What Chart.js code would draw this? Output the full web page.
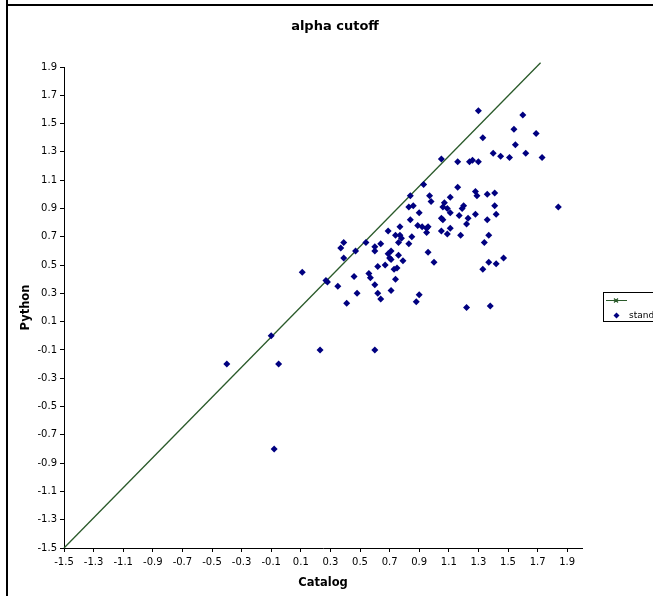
<!DOCTYPE html>
<html lang="en">
<head>
<meta charset="UTF-8">
<title>alpha cutoff</title>
<script src="https://cdn.jsdelivr.net/npm/chart.js@4.4.1/dist/chart.umd.min.js"></script>
<style>
    html, body { margin: 0; padding: 0; background: #fff; overflow: hidden; }
    #wrap { position: relative; width: 653px; height: 596px; }
    canvas { position: absolute; left: 0; top: 0; }
    .edge-left { position: absolute; left: 6px; top: 0; width: 2px; height: 596px; background: #000; }
    .edge-top { position: absolute; left: 6px; top: 4px; width: 647px; height: 2px; background: #000; }
</style>
</head>
<body>
<div id="wrap">
    <canvas id="chart" width="653" height="596"></canvas>
    <div class="edge-left"></div>
    <div class="edge-top"></div>
</div>
<script>
// values
const catalog = [-0.40,-0.05,-0.08,-0.10,0.11,0.23,0.27,0.28,0.60,0.35,
    0.37,0.39,0.39,0.41,0.46,0.47,0.48,0.54,0.56,0.57,
    0.60,0.60,0.60,0.62,0.62,0.64,0.64,0.67,0.69,0.69,
    0.70,0.71,0.71,0.71,0.73,0.74,0.74,0.75,0.76,0.76,
    0.77,0.77,0.78,0.79,0.83,0.83,0.84,0.84,0.85,0.86,
    0.88,0.89,0.90,0.90,0.92,0.93,0.95,0.95,0.96,0.96,
    0.97,0.98,1.00,1.05,1.05,1.06,1.05,1.06,1.07,1.09,
    1.09,1.11,1.11,1.11,1.16,1.16,1.17,1.18,1.19,1.20,
    1.22,1.22,1.23,1.24,1.26,1.28,1.28,1.29,1.30,1.30,
    1.33,1.33,1.34,1.36,1.36,1.37,1.37,1.38,1.40,1.41,
    1.41,1.42,1.42,1.45,1.47,1.51,1.54,1.55,1.60,1.62,
    1.69,1.73,1.84];
const python = [-0.20,-0.20,-0.80,0.00,0.45,-0.10,0.39,0.38,-0.10,0.35,
    0.62,0.66,0.55,0.23,0.42,0.60,0.30,0.66,0.44,0.41,
    0.63,0.60,0.36,0.30,0.49,0.65,0.26,0.50,0.74,0.58,
    0.55,0.60,0.54,0.32,0.47,0.40,0.71,0.48,0.66,0.57,
    0.77,0.71,0.69,0.53,0.91,0.65,0.99,0.82,0.70,0.92,
    0.24,0.78,0.87,0.29,0.77,1.07,0.76,0.73,0.77,0.59,
    0.99,0.95,0.52,1.25,0.83,0.82,0.74,0.91,0.94,0.90,
    0.72,0.98,0.76,0.87,1.23,1.05,0.85,0.71,0.90,0.92,
    0.79,0.20,0.83,1.23,1.24,1.02,0.86,0.99,1.59,1.23,
    1.40,0.47,0.66,0.82,1.00,0.71,0.52,0.21,1.29,1.01,
    0.92,0.51,0.86,1.27,0.55,1.26,1.46,1.35,1.56,1.29,
    1.43,1.26,0.91];

// reference line, two end points
const lineX = [-1.5, 1.72];
const lineY = [-1.5, 1.93];

const seriesNames = ['', 'standard'];
const xTicks = [-1.5,-1.3,-1.1,-0.9,-0.7,-0.5,-0.3,-0.1,0.1,0.3,0.5,0.7,0.9,1.1,1.3,1.5,1.7,1.9];
const yTicks = [-1.5,-1.3,-1.1,-0.9,-0.7,-0.5,-0.3,-0.1,0.1,0.3,0.5,0.7,0.9,1.1,1.3,1.5,1.7,1.9];

const FONT = 'DejaVu Sans, Verdana, sans-serif';
const LINE_COLOR = '#2a5a2a';
const DOT_COLOR = '#000080';

// title and the (cut off) legend box, drawn like the Excel original
const excelDecor = {
    id: 'excelDecor',
    afterDraw(chart) {
        const ctx = chart.ctx;
        ctx.save();
        ctx.fillStyle = '#000';
        ctx.font = 'bold 13px ' + FONT;
        ctx.textAlign = 'center';
        ctx.textBaseline = 'middle';
        ctx.fillText('alpha cutoff', 335, 27);

        // legend
        ctx.strokeStyle = '#000';
        ctx.lineWidth = 1;
        ctx.strokeRect(603.5, 292.5, 80, 29);

        ctx.strokeStyle = LINE_COLOR;
        ctx.lineWidth = 1.2;
        ctx.beginPath();
        ctx.moveTo(606, 300.5);
        ctx.lineTo(627, 300.5);
        ctx.moveTo(614, 298.5);
        ctx.lineTo(618, 302.5);
        ctx.moveTo(618, 298.5);
        ctx.lineTo(614, 302.5);
        ctx.stroke();

        ctx.fillStyle = DOT_COLOR;
        ctx.beginPath();
        ctx.moveTo(616.5, 312.5);
        ctx.lineTo(619.5, 315.5);
        ctx.lineTo(616.5, 318.5);
        ctx.lineTo(613.5, 315.5);
        ctx.closePath();
        ctx.fill();

        ctx.fillStyle = '#000';
        ctx.font = '9px ' + FONT;
        ctx.textAlign = 'left';
        ctx.fillText(seriesNames[0], 629, 300.5);
        ctx.fillText(seriesNames[1], 629, 315.5);
        ctx.restore();
    }
};

new Chart(document.getElementById('chart'), {
    type: 'scatter',
    data: {
        datasets: [{
            label: seriesNames[1],
            data: catalog.map((x, i) => ({ x: x, y: python[i] })),
            pointStyle: 'rectRot',
            pointRadius: 3.5,
            pointHoverRadius: 3.5,
            backgroundColor: DOT_COLOR,
            borderColor: DOT_COLOR,
            borderWidth: 0
        }, {
            label: seriesNames[0],
            data: lineX.map((x, i) => ({ x: x, y: lineY[i] })),
            showLine: true,
            borderColor: LINE_COLOR,
            borderWidth: 1.3,
            pointRadius: 0,
            clip: false
        }]
    },
    options: {
        responsive: false,
        animation: false,
        devicePixelRatio: 1,
        layout: { padding: { top: 67, right: 71, bottom: 0, left: 0 } },
        plugins: {
            legend: { display: false },
            title: { display: false },
            tooltip: { enabled: false }
        },
        scales: {
            x: {
                type: 'linear',
                min: -1.5,
                max: 2.0,
                afterBuildTicks: s => { s.ticks = xTicks.map(v => ({ value: v })); },
                afterFit: s => { s.height = 48; },
                ticks: {
                    callback: v => v.toFixed(1),
                    font: { family: FONT, size: 10 },
                    color: '#000',
                    padding: 4,
                    maxRotation: 0,
                    autoSkip: false
                },
                grid: { drawOnChartArea: false, drawTicks: true, tickLength: 4, color: '#000' },
                border: { color: '#000', width: 1 },
                title: {
                    display: true,
                    text: 'Catalog',
                    color: '#000',
                    font: { family: FONT, size: 11.5, weight: 'bold' },
                    padding: { top: 0, bottom: 6 }
                }
            },
            y: {
                type: 'linear',
                min: -1.5,
                max: 1.9,
                afterBuildTicks: s => { s.ticks = yTicks.map(v => ({ value: v })); },
                afterFit: s => { s.width = 64; },
                ticks: {
                    callback: v => v.toFixed(1),
                    font: { family: FONT, size: 10 },
                    color: '#000',
                    padding: 3,
                    autoSkip: false
                },
                grid: { drawOnChartArea: false, drawTicks: true, tickLength: 4, color: '#000' },
                border: { color: '#000', width: 1 },
                title: {
                    display: true,
                    text: 'Python',
                    color: '#000',
                    font: { family: FONT, size: 11.5, weight: 'bold' },
                    padding: { top: 19, bottom: 0 }
                }
            }
        }
    },
    plugins: [excelDecor]
});
</script>
</body>
</html>
